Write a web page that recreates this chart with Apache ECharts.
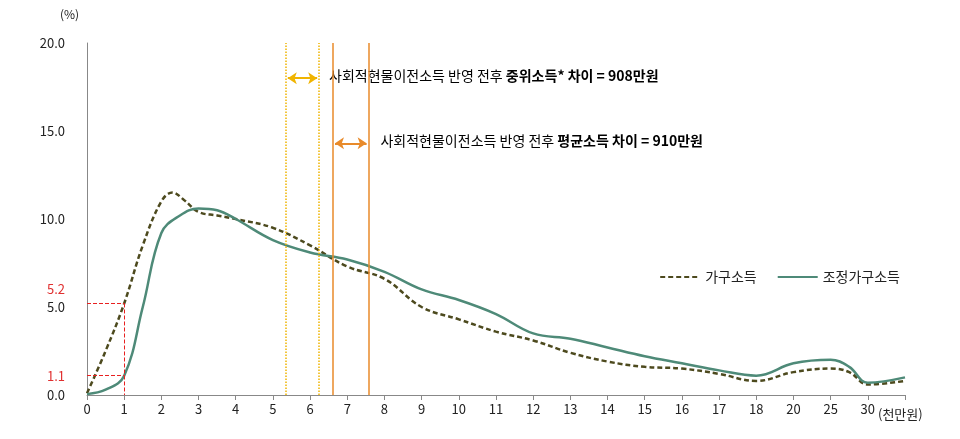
<!DOCTYPE html>
<html><head><meta charset="utf-8">
<script src="https://cdn.jsdelivr.net/npm/echarts@6/dist/echarts.min.js"></script>
<style>html,body{margin:0;padding:0;background:#fff}#c{width:960px;height:439px}</style>
</head><body><div id="c"></div>
<script>
const tickLabels = ['0','1','2','3','4','5','6','7','8','9','10','11','12','13','14','15','16','17','18','20','25','30'];
const householdX = [0,0.5,1,1.5,2,2.3,2.6,3,3.5,4,5,6,7,8,9,10,11,12,13,14,15,16,17,18,19,20,20.5,21,22];
const household  = [0.1,2.5,5.2,8.5,11,11.5,11.1,10.4,10.2,10.0,9.5,8.5,7.3,6.6,5.0,4.3,3.6,3.1,2.4,1.9,1.6,1.5,1.2,0.8,1.3,1.5,1.3,0.6,0.8];
const adjustedX = [0,0.5,1,1.5,2,2.5,3,3.5,4,5,6,7,8,9,10,11,12,13,14,15,16,17,18,19,20,20.5,21,22];
const adjusted  = [0.05,0.3,1.1,5.0,9.2,10.2,10.6,10.5,10.0,8.8,8.1,7.7,7.0,6.0,5.4,4.6,3.5,3.2,2.7,2.2,1.8,1.4,1.1,1.8,2.0,1.6,0.7,1.0];
const medianLines = [5.35, 6.24];
const meanLines = [6.62, 7.57];
const redMarks = [1.1, 5.2];
const font = "'Noto Sans CJK KR','Noto Sans',sans-serif";
const chart = echarts.init(document.getElementById('c'));
const pair = (xs, ys) => xs.map((x,i)=>[x,ys[i]]);
chart.setOption({
  animation:false,
  textStyle:{fontFamily:font},
  grid:{left:87,right:55,top:43,bottom:44},
  legend:{right:55,top:265,itemWidth:40,itemGap:20,itemStyle:{opacity:0},textStyle:{fontSize:14,color:'#222',fontFamily:font},
    data:['가구소득','조정가구소득']},
  xAxis:{type:'value',min:0,max:22,interval:1,
    axisLine:{lineStyle:{color:'#888'}},axisTick:{show:true,lineStyle:{color:'#888'}},
    splitLine:{show:false},
    axisLabel:{fontSize:13,color:'#222',formatter:v=>tickLabels[v]!==undefined?tickLabels[v]:''}},
  yAxis:{type:'value',min:0,max:20,interval:5,
    axisLine:{show:true,lineStyle:{color:'#888'}},axisTick:{show:false},splitLine:{show:false},
    axisLabel:{fontSize:13,color:'#222',margin:22,formatter:v=>v.toFixed(1)}},
  series:[
    {name:'가구소득',type:'line',smooth:0.4,showSymbol:false,data:pair(householdX,household),
     lineStyle:{color:'#4d4a1e',width:2.5,type:[5,3]},itemStyle:{color:'#4d4a1e'},
     markLine:{silent:true,symbol:['none','none'],label:{show:false},
       lineStyle:{color:'#e82020',type:'dashed',width:1},
       data:[[{coord:[0,5.2]},{coord:[1,5.2]}],[{coord:[0,1.1]},{coord:[1,1.1]}],[{coord:[1,5.2]},{coord:[1,0]}]]}},
    {name:'조정가구소득',type:'line',smooth:0.4,showSymbol:false,data:pair(adjustedX,adjusted),
     lineStyle:{color:'#4e8a78',width:2.5},itemStyle:{color:'#4e8a78'},
     markLine:{silent:true,symbol:['none','none'],label:{show:false},
       data:[
        {xAxis:medianLines[0],lineStyle:{color:'#f0b400',type:'dotted',width:1.5}},
        {xAxis:medianLines[1],lineStyle:{color:'#f0b400',type:'dotted',width:1.5}},
        {xAxis:meanLines[0],lineStyle:{color:'#e88a2a',type:'solid',width:1.5}},
        {xAxis:meanLines[1],lineStyle:{color:'#e88a2a',type:'solid',width:1.5}},
        [{coord:[medianLines[0]+0.05,18],symbol:'arrow',lineStyle:{color:'#f0b400',type:'solid',width:2}},{coord:[medianLines[1]-0.05,18],symbol:'arrow'}],
        [{coord:[meanLines[0]+0.05,14.3],symbol:'arrow',lineStyle:{color:'#e88a2a',type:'solid',width:2}},{coord:[meanLines[1]-0.05,14.3],symbol:'arrow'}]
       ],symbolSize:9}}
  ]
});
const p = (x,y)=>chart.convertToPixel({gridIndex:0},[x,y]);
const rich = {n:{fontSize:14,color:'#222',fontFamily:font},b:{fontSize:14,color:'#222',fontWeight:'bold',fontFamily:font}};
const a1=p(medianLines[1],18), a2=p(meanLines[1],14.3), r1=p(0,1.1), r2=p(0,5.2), ax=p(22,0);
chart.setOption({graphic:[
  {type:'text',left:a1[0]+10,top:a1[1]-10,style:{text:'{n|사회적현물이전소득 반영 전후 }{b|중위소득* 차이 = 908만원}',rich}},
  {type:'text',left:a2[0]+12,top:a2[1]-10,style:{text:'{n|사회적현물이전소득 반영 전후 }{b|평균소득 차이 = 910만원}',rich}},
  {type:'text',x:r1[0]-22,y:r1[1],style:{text:'1.1',fill:'#e03030',fontSize:13,fontFamily:font,align:'right',verticalAlign:'middle'}},
  {type:'text',x:r2[0]-22,y:r2[1]-14,style:{text:'5.2',fill:'#e03030',fontSize:13,fontFamily:font,align:'right',verticalAlign:'middle'}},
  {type:'text',x:ax[0]-27,y:ax[1]+13,style:{text:'(천만원)',fill:'#222',fontSize:13,fontFamily:font}},
  {type:'text',x:60,y:8,style:{text:'(%)',fill:'#222',fontSize:12,fontFamily:font}}
]});
</script></body></html>
